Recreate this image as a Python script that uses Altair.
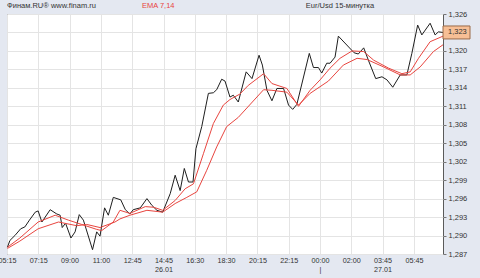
import altair as alt
import pandas as pd

# ---- data (x in 15-minute bars from 05:15) ----
price_bar = [0.1,0.7,1.9,3.3,4.3,5.4,6.8,7.5,8.4,10.4,12.0,12.8,13.3,14.1,15.4,16.4,17.4,18.4,20.6,21.6,
             22.4,23.5,24.4,25.6,27.4,28.5,29.6,30.4,32.1,33.7,34.9,36.1,37.5,39.3,40.5,41.7,42.7,43.7,44.8,45.5,
             46.9,48.5,49.7,50.5,51.7,52.5,53.7,54.5,55.7,57.6,59.0,60.7,61.5,62.6,63.8,65.0,66.6,67.8,68.8,69.8,
             72.8,73.8,75.0,75.8,77.0,77.8,79.0,79.8,83.6,84.6,85.9,87.2,88.8,90.3,91.5,92.9,94.7,96.3,97.5,98.9,
             99.9,101.9,103.1,103.9,105.0]
price_val = [1.2881,1.2892,1.2900,1.2911,1.2914,1.2925,1.2938,1.2940,1.2922,1.2942,1.2935,1.2933,1.2913,1.2920,1.2896,1.2906,1.2934,1.2925,1.2877,1.2906,
             1.2899,1.2945,1.2933,1.2962,1.2958,1.2942,1.2935,1.2942,1.2945,1.2960,1.2949,1.2941,1.2938,1.2968,1.2998,1.2973,1.3009,1.2987,1.2987,1.3041,
             1.3077,1.3131,1.3132,1.3137,1.3154,1.3151,1.3125,1.3128,1.3117,1.3166,1.3155,1.3193,1.3177,1.3136,1.3119,1.3139,1.3139,1.3112,1.3105,1.3113,
             1.3196,1.3173,1.3173,1.3164,1.3180,1.3180,1.3190,1.3224,1.3197,1.3195,1.3205,1.3182,1.3155,1.3158,1.3153,1.3141,1.3161,1.3161,1.3196,1.3242,
             1.3226,1.3245,1.3226,1.3231,1.3230]

ema7_bar = [0.1,3.1,7.5,11.6,14.8,18.0,21.6,22.8,25.6,27.2,29.6,33.3,35.3,37.5,40.5,42.9,44.9,47.3,49.7,52.1,
            53.7,56.1,58.1,61.8,63.8,67.4,70.2,73.0,75.4,77.8,80.2,83.1,85.9,88.3,91.9,95.1,97.1,99.1,101.9,105.0]
ema7_val = [1.2881,1.2896,1.2922,1.2933,1.2925,1.2918,1.2910,1.2908,1.2922,1.2941,1.2936,1.2947,1.2946,1.2941,1.2957,1.2976,1.2984,1.3033,1.3082,1.3112,
            1.3121,1.3130,1.3144,1.3163,1.3147,1.3139,1.3110,1.3136,1.3153,1.3172,1.3188,1.3200,1.3199,1.3185,1.3172,1.3163,1.3166,1.3188,1.3215,1.3224]

ema14_bar = [0.1,3.1,7.5,12.4,16.8,19.2,22.4,26.0,27.2,29.6,33.7,37.5,40.5,43.3,45.7,48.1,50.5,52.9,55.7,61.8,
             63.8,67.4,70.2,73.0,77.4,81.0,84.3,86.7,90.7,94.7,97.1,99.5,102.7,105.0]
ema14_val = [1.2879,1.2891,1.2911,1.2922,1.2916,1.2918,1.2913,1.2922,1.2927,1.2933,1.2941,1.2938,1.2952,1.2962,1.2971,1.3006,1.3044,1.3077,1.3092,1.3137,
             1.3136,1.3133,1.3112,1.3131,1.3151,1.3177,1.3188,1.3186,1.3174,1.3161,1.3161,1.3174,1.3199,1.3210]

x_labels = ["05:15","07:15","09:00","11:00","12:45","14:45","16:30","18:30","20:15","22:15","00:00","02:00","03:45","05:45"]
x_sublabels = ["","","","","","26.01","","","","","|","","27.01",""]
y_ticks = [1.287,1.290,1.293,1.296,1.299,1.302,1.305,1.308,1.311,1.314,1.317,1.320,1.323,1.326]

title_left = "Финам.RU®  www.finam.ru"
title_ema = "EMA 7,14"
title_right = "Eur/Usd 15-минутка"

# ---- layout ----
W, H = 436, 240
X_MAX = 105
TICK_STEP = 7.538
FONT = "Liberation Sans"
BG = "#e4e8f1"
RED = "#e8453f"

df = pd.concat([
    pd.DataFrame({"bar": price_bar, "val": price_val, "s": "price"}),
    pd.DataFrame({"bar": ema14_bar, "val": ema14_val, "s": "ema14"}),
    pd.DataFrame({"bar": ema7_bar, "val": ema7_val, "s": "ema7"}),
])

tick_pos = [round(i * TICK_STEP, 3) for i in range(len(x_labels))]
arr = "[" + ",".join(
    "[" + ",".join("'%s'" % t for t in ([a, b] if b else [a])) + "]"
    for a, b in zip(x_labels, x_sublabels)) + "]"
x_label_expr = "%s[round(datum.value / %s)]" % (arr, TICK_STEP)

xs = alt.Scale(domain=[0, X_MAX], nice=False, zero=False)
ys = alt.Scale(domain=[y_ticks[0], y_ticks[-1]], nice=False, zero=False)

x_axis = alt.Axis(values=tick_pos, tickCount=len(tick_pos), labelExpr=x_label_expr, title=None,
                  grid=True, gridColor="#e4e4e4", ticks=False, domain=False, labelFlush=False,
                  labelOverlap=False, labelFont=FONT, labelFontSize=7.2, labelColor="#333",
                  labelPadding=2, labelLineHeight=9)
y_axis = alt.Axis(values=y_ticks, tickCount=len(y_ticks), orient="right", title=None, grid=True,
                  gridColor="#e4e4e4",
                  labelExpr="replace(format(datum.value, '.3f'), '.', ',')",
                  tickColor="#777", tickSize=3, domain=False, labelFont=FONT,
                  labelFontSize=7.5, labelColor="#333", labelPadding=2, labelOverlap=False)

lines = alt.Chart(df).mark_line(strokeWidth=1, interpolate="linear").encode(
    x=alt.X("bar:Q", scale=xs, axis=x_axis),
    y=alt.Y("val:Q", scale=ys, axis=y_axis),
    color=alt.Color("s:N", scale=alt.Scale(domain=["price", "ema14", "ema7"],
                                           range=["#1e1e1e", RED, RED]), legend=None),
    detail="s:N",
)

last_val = price_val[-1]
last_df = pd.DataFrame({"v": [last_val], "t": [("%.3f" % last_val).replace(".", ",")]})
box = alt.Chart(last_df).mark_point(
    shape="M-1,-0.48H1V0.48H-1Z", size=729, filled=True, fill="#f7bf95",
    stroke="#9a6a48", strokeWidth=1, opacity=1
).encode(x=alt.value(W + 13.5), y=alt.Y("v:Q", scale=ys, axis=y_axis))
box_text = alt.Chart(last_df).mark_text(
    font=FONT, fontSize=7.5, color="#333", align="left", baseline="middle"
).encode(x=alt.value(W + 5), y=alt.Y("v:Q", scale=ys, axis=y_axis), text="t:N")

def label(txt, xpx, align, color):
    return alt.Chart(pd.DataFrame({"t": [txt]})).mark_text(
        font=FONT, fontSize=7.5, color=color, align=align, baseline="middle"
    ).encode(x=alt.value(xpx), y=alt.value(-8), text="t:N")

chart = alt.layer(
    lines, box, box_text,
    label(title_left, 0, "left", "#333"),
    label(title_ema, 135, "left", RED),
    label(title_right, 333, "center", "#333"),
).properties(
    width=W, height=H,
    autosize=alt.AutoSizeParams(type="none"),
    padding={"left": 7, "top": 14, "right": 37, "bottom": 24},
    background=BG,
).configure_view(stroke="#5a5a5a", strokeWidth=1, fill="white")

chart.save("out.html", embed_options={"renderer": "svg", "actions": False})
